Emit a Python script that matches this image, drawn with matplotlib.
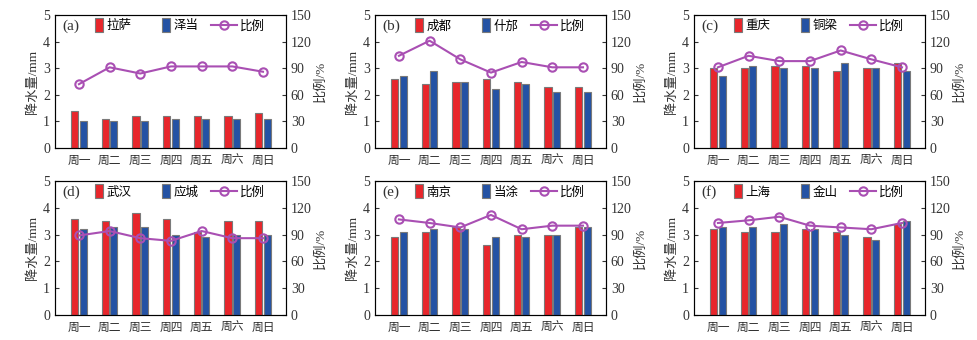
import numpy as np
import matplotlib
matplotlib.use("Agg")
import matplotlib.pyplot as plt
from matplotlib.patches import Patch, Rectangle
from matplotlib.lines import Line2D
from matplotlib.legend_handler import HandlerPatch

plt.rcParams["font.family"] = ["Liberation Serif", "Noto Sans CJK SC"]
plt.rcParams["axes.unicode_minus"] = False

days = ["周一", "周二", "周三", "周四", "周五", "周六", "周日"]

panel_labels = ["(a)", "(b)", "(c)", "(d)", "(e)", "(f)"]
city_big = ["拉萨", "成都", "重庆", "武汉", "南京", "上海"]
city_small = ["泽当", "什邡", "铜梁", "应城", "当涂", "金山"]

# precipitation (mm), big city / small city
rain_big = [
    [1.4, 1.1, 1.2, 1.2, 1.2, 1.2, 1.3],
    [2.6, 2.4, 2.5, 2.6, 2.5, 2.3, 2.3],
    [3.0, 3.0, 3.1, 3.1, 2.9, 3.0, 3.2],
    [3.6, 3.5, 3.8, 3.6, 3.1, 3.5, 3.5],
    [2.9, 3.1, 3.3, 2.6, 3.0, 3.0, 3.3],
    [3.2, 3.1, 3.1, 3.2, 3.1, 2.9, 3.4],
]
rain_small = [
    [1.0, 1.0, 1.0, 1.1, 1.1, 1.1, 1.1],
    [2.7, 2.9, 2.5, 2.2, 2.4, 2.1, 2.1],
    [2.7, 3.1, 3.0, 3.0, 3.2, 3.0, 2.9],
    [3.2, 3.3, 3.3, 3.0, 2.9, 3.0, 3.0],
    [3.1, 3.2, 3.2, 2.9, 2.9, 3.0, 3.3],
    [3.3, 3.3, 3.4, 3.2, 3.0, 2.8, 3.5],
]
# ratio (%)
ratio = [
    [72, 91, 84, 92, 92, 92, 86],
    [104, 121, 100, 85, 97, 91, 91],
    [91, 104, 98, 98, 110, 100, 91],
    [89, 94, 86, 83, 94, 86, 86],
    [107, 103, 98, 112, 96, 100, 100],
    [103, 106, 110, 100, 98, 96, 103],
]

RED = "#e8262b"
BLUE = "#2452a4"
PURPLE = "#a94fb3"
EDGE = "#7a7a7a"
AXC = "#333333"


def narrow_rect(legend, orig_handle, xdescent, ydescent, width, height, fontsize):
    # tall narrow box sitting at the right end of the handle slot
    w = 8 * 72 / 100
    h = height * 1.6
    return Rectangle((xdescent + width - w, ydescent - height * 0.3), w, h)


fig = plt.figure(figsize=(9.78, 3.4), dpi=100)

lefts = [55, 375, 694]
w_px = 231
rows = [(15, 148), (181, 315)]

x = np.arange(len(days))
bw = 0.23
off = 0.14

for i in range(6):
    r, c = divmod(i, 3)
    top, bot = rows[r]
    ax = fig.add_axes([lefts[c] / 978, 1 - bot / 340, w_px / 978, (bot - top) / 340])
    ax.bar(x - off, rain_big[i], bw, color=RED, edgecolor=EDGE, linewidth=0.8)
    ax.bar(x + off, rain_small[i], bw, color=BLUE, edgecolor=EDGE, linewidth=0.8)
    ax.set_xlim(-0.78, 6.75)
    ax.set_ylim(0, 5)
    ax.set_yticks(range(6))
    ax.set_xticks(x)
    ax.set_xticklabels(days)
    ax.tick_params(direction="in", length=3, labelsize=10, colors=AXC, top=True)
    ax.tick_params(axis="x", length=0, pad=5, labelsize=8.5)
    ax.set_ylabel("降水量/mm", fontsize=9.5, color=AXC, labelpad=3)
    for s in ax.spines.values():
        s.set_color(AXC)
        s.set_linewidth(0.8)

    ax2 = ax.twinx()
    ax2.plot(x, ratio[i], color=PURPLE, lw=1.5, marker="o", ms=6,
             mfc="none", mec=PURPLE, mew=1.5)
    ax2.set_ylim(0, 150)
    ax2.set_yticks(range(0, 151, 30))
    ax2.tick_params(direction="in", length=3, labelsize=10, colors=AXC)
    ax2.set_ylabel("比例/%", fontsize=9.5, color=AXC, labelpad=2)

    ax.text(0.03, 0.915, panel_labels[i], transform=ax.transAxes, fontsize=11,
            va="center", ha="left", color=AXC)

    handles = [
        Patch(facecolor=RED, edgecolor=EDGE, linewidth=0.8),
        Patch(facecolor=BLUE, edgecolor=EDGE, linewidth=0.8),
        Line2D([], [], color=PURPLE, lw=1.5, marker="o", ms=6, mfc="none", mew=1.5),
    ]
    ax2.legend(handles, [city_big[i], city_small[i], "比例"], ncol=3,
               loc="center left", bbox_to_anchor=(22 / 231, 0.915), frameon=False,
               fontsize=9, handlelength=2.1, handletextpad=0.25,
               columnspacing=1.0, borderaxespad=0, borderpad=0,
               handler_map={Patch: HandlerPatch(patch_func=narrow_rect)})

fig.savefig("out.png", dpi=100)
